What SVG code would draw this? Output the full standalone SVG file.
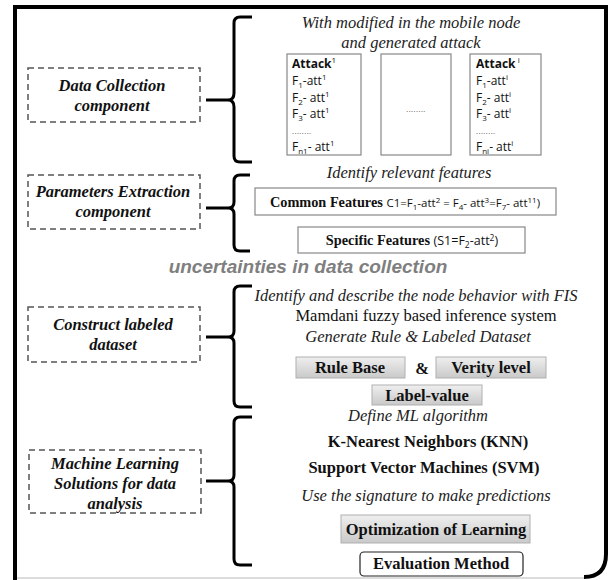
<svg xmlns="http://www.w3.org/2000/svg" width="611" height="580" viewBox="0 0 611 580">
<defs>
<linearGradient id="gg" x1="0" y1="0" x2="0" y2="1">
<stop offset="0" stop-color="#efefef"/>
<stop offset="1" stop-color="#c9c9c9"/>
</linearGradient>
</defs>
<style>
.lbl{font-family:"Liberation Serif",serif;font-size:16.5px;font-weight:bold;font-style:italic;fill:#111;text-anchor:middle}
.it{font-family:"Liberation Serif",serif;font-size:16.5px;font-style:italic;fill:#222;text-anchor:middle}
.rg{font-family:"Liberation Serif",serif;font-size:16.5px;fill:#111;text-anchor:middle}
.bd{font-family:"Liberation Serif",serif;font-size:16.5px;font-weight:bold;fill:#111;text-anchor:middle}
.sans{font-family:"Open Sans","Liberation Sans",sans-serif;font-size:12px;fill:#111}
.dots{font-family:"Liberation Sans",sans-serif;font-size:7px;fill:#111;letter-spacing:0.5px}
.dash{fill:none;stroke:#555;stroke-width:1.5;stroke-dasharray:6,4}
.brace{fill:none;stroke:#000;stroke-width:3;stroke-linecap:butt;stroke-linejoin:round}
.wbox{fill:#fff;stroke:#888;stroke-width:1.2}
.gbox{fill:url(#gg);stroke:#b0b0b0;stroke-width:1}
</style>
<rect x="0" y="0" width="611" height="580" fill="#fff"/>
<g id="frame">
<line x1="15" y1="578" x2="585" y2="578" stroke="#d0d0d0" stroke-width="1.5"/>
<path d="M15,580 L15,7 L606,7 L606,554 Q606,577 584,577" fill="none" stroke="#000" stroke-width="4"/>
</g>
<g id="connectors">
<path class="brace" d="M252,17 L240,17 Q234,17 234,23 L234,93 Q234,100 228,100 L206,100 M228,100 Q234,100 234,107 L234,156 Q234,162 240,162 L252,162"/>
<path class="brace" d="M250,175 L240,175 Q234,175 234,181 L234,202 Q234,208 228,208 L206,208 M228,208 Q234,208 234,214 L234,245 Q234,251 240,251 L250,251"/>
<path class="brace" d="M252,286 L240,286 Q234,286 234,292 L234,331 Q234,337 228,337 L206,337 M228,337 Q234,337 234,343 L234,401 Q234,407 240,407 L252,407"/>
<path class="brace" d="M252,417 L240,417 Q234,417 234,423 L234,475 Q234,481 228,481 L206,481 M228,481 Q234,481 234,487 L234,559 Q234,565 240,565 L252,565"/>
</g>
<g id="node-data-collection">
<rect class="dash" x="28" y="68" width="172" height="54"/>
<text class="lbl" x="112" y="91">Data Collection</text>
<text class="lbl" x="112" y="111">component</text>
</g>
<g id="node-parameters">
<rect class="dash" x="28" y="175" width="172" height="54"/>
<text class="lbl" x="113" y="197">Parameters Extraction</text>
<text class="lbl" x="113" y="217">component</text>
</g>
<g id="node-construct">
<rect class="dash" x="28" y="307" width="172" height="55"/>
<text class="lbl" x="113" y="330">Construct labeled</text>
<text class="lbl" x="113" y="350">dataset</text>
</g>
<g id="node-ml">
<rect class="dash" x="29" y="450" width="172" height="63"/>
<text class="lbl" x="115" y="469">Machine Learning</text>
<text class="lbl" x="115" y="489">Solutions for data</text>
<text class="lbl" x="115" y="509">analysis</text>
</g>
<g id="node-dc-content">
<text class="it" x="411" y="28">With modified in the mobile node</text>
<text class="it" x="411" y="48">and generated attack</text>
</g>
<g id="node-attack1">
<rect class="wbox" x="287" y="54" width="74" height="101"/>
<text class="sans" x="292" y="68"><tspan font-weight="bold">Attack</tspan><tspan font-size="8" dy="-5">1</tspan></text>
<text class="sans" x="292" y="85">F<tspan font-size="8" dy="3">1</tspan><tspan dy="-3">-att</tspan><tspan font-size="8" dy="-5">1</tspan></text>
<text class="sans" x="292" y="102">F<tspan font-size="8" dy="3">2</tspan><tspan dy="-3">- att</tspan><tspan font-size="8" dy="-5">1</tspan></text>
<text class="sans" x="292" y="118">F<tspan font-size="8" dy="3">3</tspan><tspan dy="-3">- att</tspan><tspan font-size="8" dy="-5">1</tspan></text>
<text class="dots" x="292" y="134">........</text>
<text class="sans" x="292" y="151">F<tspan font-size="8" dy="3">n1</tspan><tspan dy="-3">- att</tspan><tspan font-size="8" dy="-5">1</tspan></text>
</g>
<g id="node-attack-dots">
<rect class="wbox" x="381" y="54" width="70" height="101"/>
<text class="dots" x="416" y="112" text-anchor="middle">........</text>
</g>
<g id="node-attacki">
<rect class="wbox" x="470" y="54" width="71" height="101"/>
<text class="sans" x="476" y="68"><tspan font-weight="bold">Attack</tspan><tspan font-size="8" dy="-5"> i</tspan></text>
<text class="sans" x="476" y="85">F<tspan font-size="8" dy="3">1</tspan><tspan dy="-3">-att</tspan><tspan font-size="8" dy="-5">i</tspan></text>
<text class="sans" x="476" y="102">F<tspan font-size="8" dy="3">2</tspan><tspan dy="-3">- att</tspan><tspan font-size="8" dy="-5">i</tspan></text>
<text class="sans" x="476" y="118">F<tspan font-size="8" dy="3">3</tspan><tspan dy="-3">- att</tspan><tspan font-size="8" dy="-5">i</tspan></text>
<text class="dots" x="476" y="134">........</text>
<text class="sans" x="476" y="151">F<tspan font-size="8" dy="3">ni</tspan><tspan dy="-3">- att</tspan><tspan font-size="8" dy="-5">i</tspan></text>
</g>
<g id="node-identify">
<text class="it" x="409" y="178">Identify relevant features</text>
</g>
<g id="node-common">
<rect class="wbox" x="255" y="188" width="301" height="27"/>
<text x="405" y="207" text-anchor="middle" font-family="Open Sans, Liberation Sans, sans-serif" font-size="11.5" fill="#111"><tspan font-family="Liberation Serif, serif" font-size="14.3" font-weight="bold">Common Features </tspan>C1=F<tspan font-size="8" dy="3">1</tspan><tspan dy="-3">-att</tspan><tspan font-size="8" dy="-4">2</tspan><tspan dy="4"> = F</tspan><tspan font-size="8" dy="3">4</tspan><tspan dy="-3">- att</tspan><tspan font-size="8" dy="-4">3</tspan><tspan dy="4">=F</tspan><tspan font-size="8" dy="3">7</tspan><tspan dy="-3">- att</tspan><tspan font-size="8" dy="-4">11</tspan><tspan dy="4">)</tspan></text>
</g>
<g id="node-specific">
<rect class="wbox" x="298" y="227" width="227" height="26"/>
<text x="412" y="245" text-anchor="middle" font-family="Open Sans, Liberation Sans, sans-serif" font-size="12.5" fill="#111"><tspan font-family="Liberation Serif, serif" font-size="14.3" font-weight="bold">Specific Features </tspan> (S1=F<tspan font-size="8.5" dy="3">2</tspan><tspan dy="-3">-att</tspan><tspan font-size="8.5" dy="-4">2</tspan><tspan dy="4">)</tspan></text>
</g>
<g id="node-uncertainties">
<text x="308" y="273" text-anchor="middle" font-family="Liberation Sans, Arial, sans-serif" font-size="19" font-weight="bold" font-style="italic" fill="#7f7f7f">uncertainties in data collection</text>
</g>
<g id="node-fis">
<text class="it" x="416" y="301">Identify and describe the node behavior with FIS</text>
<text class="rg" x="426" y="321">Mamdani fuzzy based inference system</text>
<text class="it" x="418" y="342">Generate Rule &amp; Labeled Dataset</text>
</g>
<g id="node-rulebase">
<rect class="gbox" x="296" y="357" width="109" height="21"/>
<text class="bd" x="350" y="373">Rule Base</text>
</g>
<g id="node-amp">
<text class="bd" x="422" y="374" font-size="19">&amp;</text>
</g>
<g id="node-verity">
<rect class="gbox" x="436" y="357" width="110" height="21"/>
<text class="bd" x="491" y="373">Verity level</text>
</g>
<g id="node-label">
<rect class="gbox" x="372" y="385" width="110" height="20"/>
<text class="bd" x="427" y="401">Label-value</text>
</g>
<g id="node-define">
<text class="it" x="418" y="421">Define ML algorithm</text>
</g>
<g id="node-knn">
<text class="bd" x="428" y="447">K-Nearest Neighbors (KNN)</text>
</g>
<g id="node-svm">
<text class="bd" x="424" y="473">Support Vector Machines (SVM)</text>
</g>
<g id="node-signature">
<text class="it" x="426" y="501">Use the signature to make predictions</text>
</g>
<g id="node-optimization">
<rect class="gbox" x="341" y="515" width="189" height="28"/>
<text class="bd" x="436" y="535" font-size="17">Optimization of Learning</text>
</g>
<g id="node-evaluation">
<rect x="360" y="552" width="163" height="24" rx="4" fill="#fff" stroke="#222" stroke-width="1.2"/>
<text class="bd" x="441" y="569">Evaluation Method</text>
</g>
</svg>
